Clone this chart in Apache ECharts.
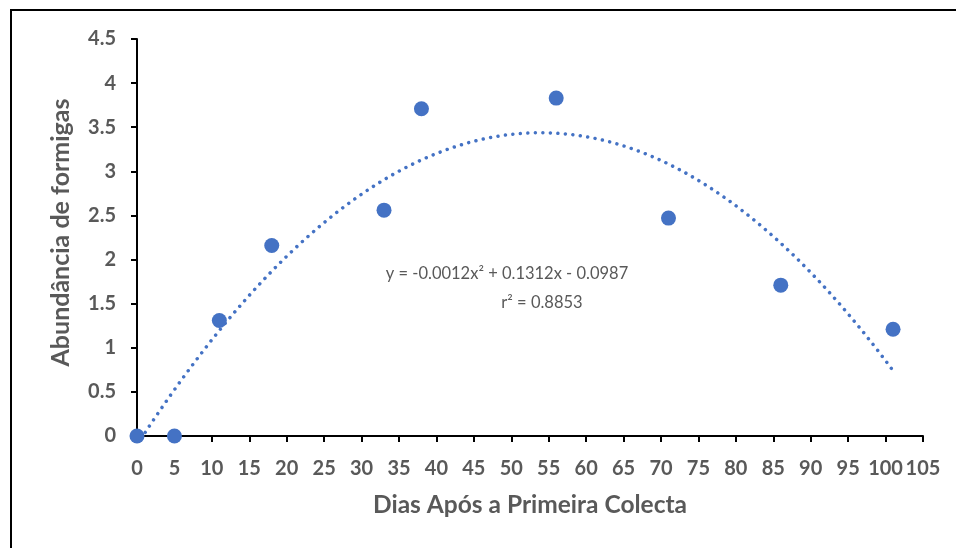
<!DOCTYPE html>
<html>
<head>
<meta charset="utf-8">
<script src="https://cdn.jsdelivr.net/npm/echarts@6/dist/echarts.min.js"></script>
<style>html,body{margin:0;padding:0;background:#fff}#c{width:956px;height:548px}</style>
</head>
<body>
<div id="c"></div>
<script>
// Data
const days = [0, 5, 11, 18, 33, 38, 56, 71, 86, 101];
const abundance = [0, 0, 1.31, 2.16, 2.56, 3.71, 3.83, 2.47, 1.71, 1.21];
const xAxisTitle = 'Dias Após a Primeira Colecta';
const yAxisTitle = 'Abundância de formigas';
const equationLine = 'y = -0.0012x² + 0.1312x - 0.0987';
const r2Line = 'r² = 0.8853';

// Least-squares quadratic fit computed from the data
function quadFit(xs, ys) {
  let S = [0,0,0,0,0], T = [0,0,0];
  for (let i = 0; i < xs.length; i++) {
    let p = 1;
    for (let k = 0; k < 5; k++) { S[k] += p; if (k < 3) T[k] += p * ys[i]; p *= xs[i]; }
  }
  const A = [[S[0],S[1],S[2],T[0]],[S[1],S[2],S[3],T[1]],[S[2],S[3],S[4],T[2]]];
  for (let i = 0; i < 3; i++) {
    for (let j = i + 1; j < 3; j++) {
      const f = A[j][i] / A[i][i];
      for (let k = i; k < 4; k++) A[j][k] -= f * A[i][k];
    }
  }
  const c = [0,0,0];
  for (let i = 2; i >= 0; i--) {
    let s = A[i][3];
    for (let k = i + 1; k < 3; k++) s -= A[i][k] * c[k];
    c[i] = s / A[i][i];
  }
  return c; // c0 + c1 x + c2 x^2
}
const coef = quadFit(days, abundance);
const xMin = Math.min(...days), xMax = Math.max(...days);
const trend = [];
for (let x = xMin; x <= xMax; x += 0.5) trend.push([x, coef[0] + coef[1]*x + coef[2]*x*x]);

const gray = '#595959';
const font = "Lato, 'Open Sans', sans-serif";
const chart = echarts.init(document.getElementById('c'));
chart.setOption({
  animation: false,
  grid: {left: 137, right: 33, top: 39, bottom: 112, containLabel: false},
  xAxis: {
    type: 'value', min: 0, max: 105, interval: 5,
    name: xAxisTitle, nameLocation: 'middle', nameGap: 57,
    nameTextStyle: {color: gray, fontSize: 24.5, fontWeight: 'bold', fontFamily: font},
    axisLine: {show: true, lineStyle: {color: '#000', width: 2}},
    axisTick: {show: true, length: 6, lineStyle: {color: '#000', width: 2}},
    axisLabel: {color: gray, fontSize: 20, fontWeight: 'bold', fontFamily: font, margin: 23},
    splitLine: {show: false}
  },
  yAxis: {
    type: 'value', min: 0, max: 4.5, interval: 0.5,
    name: yAxisTitle, nameLocation: 'middle', nameGap: 64, nameRotate: 90,
    nameTextStyle: {color: gray, fontSize: 25, fontWeight: 'bold', fontFamily: font, padding: [0, 0, 0, 10]},
    axisLine: {show: true, lineStyle: {color: '#000', width: 2}},
    axisTick: {show: true, length: 6, lineStyle: {color: '#000', width: 2}},
    axisLabel: {color: gray, fontSize: 20, fontWeight: 'bold', fontFamily: font, margin: 21},
    splitLine: {show: false}
  },
  graphic: [
    {type: 'rect', shape: {x: 11, y: 10, width: 1000, height: 600}, style: {fill: 'none', stroke: '#000', lineWidth: 2}, z: -1},
    {type: 'text', x: 507, y: 274, style: {text: equationLine, fill: gray, fontSize: 16.5, fontFamily: font, align: 'center', verticalAlign: 'middle'}},
    {type: 'text', x: 542, y: 303, style: {text: r2Line, fill: gray, fontSize: 16.5, fontFamily: font, align: 'center', verticalAlign: 'middle'}}
  ],
  series: [
    {
      type: 'line', data: trend, showSymbol: false, clip: true, smooth: false,
      lineStyle: {color: '#4472C4', width: 3.5, type: [0.01, 7.5], cap: 'round'},
      z: 2
    },
    {
      type: 'scatter', data: days.map((d, i) => [d, abundance[i]]),
      symbolSize: 15, itemStyle: {color: '#4472C4', opacity: 1}, z: 3
    }
  ]
});
</script>
</body>
</html>
